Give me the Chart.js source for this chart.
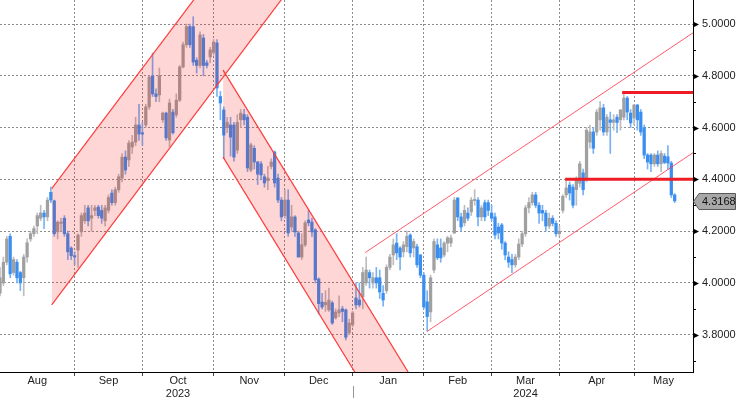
<!DOCTYPE html>
<html><head><meta charset="utf-8">
<script src="https://cdn.jsdelivr.net/npm/chart.js@4/dist/chart.umd.min.js"></script>
<style>html,body{margin:0;padding:0;background:#fff;overflow:hidden}#wrap{position:relative;width:736px;height:398px}</style>
</head><body><div id="wrap"><canvas id="c" width="736" height="398"></canvas></div>
<script>
// Daily OHLC, 1 Aug 2023 .. 16 May 2024 (trading days)
const openV = [
3.96,4.00,4.08,4.18,4.04,4.08,4.04,4.02,4.10,4.17,4.19,4.22,4.25,4.27,4.255,4.35,4.317,4.197,4.23,4.25,4.19,4.135,4.105,
4.127,4.197,4.24,4.29,4.25,4.28,4.293,4.28,4.24,4.28,4.347,4.31,4.36,4.405,4.486,4.475,4.525,4.544,4.61,4.58,
4.61,4.68,4.80,4.73,4.726,4.63,4.656,4.552,4.66,4.649,4.706,4.834,4.92,4.99,4.99,4.86,4.84,4.946,4.85,4.873,4.89,
4.927,4.72,4.668,4.60,4.61,4.61,4.513,4.63,4.65,4.64,4.436,4.52,4.467,4.46,4.41,4.395,4.45,4.506,4.405,4.32,4.26,
4.32,4.216,4.255,4.193,4.10,4.147,4.243,4.235,4.205,4.015,3.926,3.915,3.896,3.923,3.865,3.884,3.90,3.896,3.807,3.838,
3.942,3.934,3.946,4.00,4.04,4.00,4.02,4.02,3.96,3.97,4.06,4.108,4.154,4.135,4.12,4.14,4.185,4.135,4.14,4.108,4.03,
3.927,3.888,4.05,4.147,4.135,4.108,4.154,4.154,4.193,4.328,4.255,4.232,4.27,4.274,4.318,4.32,4.255,4.31,4.31,4.27,
4.255,4.216,4.224,4.154,4.10,4.09,4.07,4.10,4.15,4.19,4.29,4.31,4.34,4.30,4.28,4.27,4.22,4.25,4.23,4.19,
4.28,4.34,4.378,4.37,4.36,4.385,4.425,4.40,4.544,4.583,4.583,4.63,4.676,4.583,4.63,4.62,4.64,4.63,4.64,4.714,4.656,4.637,
4.687,4.66,4.60,4.494,4.494,4.46,4.494,4.46,4.49,4.487,4.463,4.34];
const highV = [
4.06,4.10,4.18,4.19,4.10,4.09,4.045,4.11,4.17,4.20,4.22,4.27,4.30,4.28,4.33,4.37,4.32,4.24,4.25,4.26,4.20,4.14,4.12,
4.19,4.27,4.30,4.30,4.30,4.30,4.30,4.30,4.30,4.34,4.36,4.37,4.42,4.50,4.51,4.55,4.57,4.64,4.69,4.62,
4.69,4.80,4.888,4.75,4.83,4.66,4.66,4.71,4.67,4.73,4.84,4.93,5.00,5.00,5.028,4.87,4.97,4.96,4.86,4.91,4.94,
4.94,4.74,4.68,4.64,4.64,4.62,4.65,4.67,4.67,4.65,4.54,4.53,4.47,4.47,4.42,4.45,4.48,4.51,4.42,4.33,4.36,
4.36,4.30,4.26,4.20,4.19,4.24,4.28,4.25,4.21,4.02,3.96,3.97,3.98,3.93,3.90,3.95,3.91,3.90,3.86,3.89,
4.00,4.00,4.06,4.10,4.05,4.04,4.06,4.05,3.99,4.07,4.11,4.17,4.19,4.14,4.16,4.20,4.19,4.17,4.15,4.11,4.04,
3.97,4.03,4.17,4.17,4.17,4.16,4.18,4.185,4.33,4.33,4.27,4.30,4.29,4.33,4.36,4.33,4.30,4.32,4.32,4.30,
4.27,4.23,4.23,4.16,4.12,4.11,4.11,4.17,4.20,4.30,4.33,4.35,4.35,4.31,4.30,4.28,4.27,4.26,4.24,4.22,
4.34,4.40,4.39,4.38,4.41,4.47,4.44,4.60,4.61,4.60,4.67,4.70,4.69,4.65,4.66,4.65,4.65,4.67,4.738,4.72,4.67,4.69,
4.69,4.67,4.61,4.50,4.50,4.50,4.51,4.51,4.50,4.53,4.47,4.345];
const lowV = [
3.95,3.99,4.07,4.02,4.03,4.00,3.97,3.95,4.08,4.16,4.18,4.19,4.24,4.21,4.24,4.31,4.18,4.17,4.20,4.18,4.09,4.09,4.07,
4.06,4.18,4.23,4.22,4.20,4.26,4.25,4.23,4.22,4.27,4.30,4.30,4.35,4.39,4.42,4.45,4.50,4.53,4.55,4.53,
4.60,4.67,4.72,4.70,4.70,4.62,4.55,4.526,4.575,4.64,4.70,4.83,4.91,4.91,4.84,4.81,4.83,4.80,4.83,4.85,4.88,
4.72,4.63,4.48,4.58,4.49,4.47,4.50,4.60,4.61,4.43,4.43,4.44,4.38,4.40,4.37,4.36,4.44,4.37,4.31,4.24,4.25,
4.18,4.20,4.18,4.10,4.09,4.14,4.22,4.18,4.00,3.88,3.90,3.89,3.89,3.84,3.86,3.87,3.85,3.78,3.80,3.83,
3.90,3.907,3.90,3.99,3.98,3.98,3.98,3.94,3.91,3.96,4.05,4.07,4.09,4.05,4.10,4.12,4.10,4.10,4.06,4.02,3.90,
3.815,3.85,4.04,4.09,4.08,4.10,4.12,4.14,4.19,4.24,4.20,4.22,4.24,4.26,4.30,4.22,4.24,4.24,4.26,4.24,
4.17,4.17,4.13,4.09,4.06,4.04,4.06,4.09,4.14,4.18,4.27,4.30,4.29,4.23,4.24,4.20,4.21,4.22,4.18,4.18,
4.27,4.33,4.32,4.29,4.30,4.37,4.34,4.39,4.52,4.50,4.57,4.59,4.57,4.57,4.50,4.59,4.58,4.59,4.63,4.63,4.60,4.61,
4.59,4.57,4.48,4.44,4.43,4.45,4.45,4.43,4.46,4.44,4.33,4.31];
const closeV = [
4.02,4.08,4.17,4.035,4.09,4.02,4.00,4.10,4.155,4.19,4.21,4.26,4.27,4.255,4.32,4.32,4.19,4.235,4.235,4.19,4.12,4.105,4.10,
4.185,4.26,4.27,4.24,4.26,4.29,4.26,4.25,4.29,4.33,4.31,4.36,4.41,4.486,4.436,4.54,4.544,4.61,4.575,4.575,
4.68,4.795,4.73,4.72,4.80,4.656,4.56,4.695,4.58,4.706,4.834,4.92,4.99,4.92,4.853,4.84,4.958,4.84,4.84,4.90,4.93,
4.753,4.695,4.571,4.62,4.563,4.486,4.62,4.656,4.63,4.444,4.533,4.467,4.42,4.417,4.386,4.405,4.467,4.386,4.32,4.255,4.32,
4.193,4.255,4.197,4.10,4.147,4.232,4.232,4.197,4.012,3.92,3.907,3.925,3.934,3.845,3.888,3.896,3.89,3.79,3.845,3.884,
3.915,3.915,4.04,4.05,4.02,4.02,4.00,3.965,3.934,4.06,4.10,4.147,4.116,4.10,4.147,4.18,4.116,4.16,4.07,4.03,3.907,
3.87,4.02,4.16,4.097,4.097,4.154,4.174,4.174,4.32,4.255,4.216,4.28,4.25,4.32,4.322,4.255,4.29,4.255,4.28,4.25,
4.185,4.193,4.154,4.108,4.08,4.07,4.10,4.15,4.19,4.29,4.31,4.34,4.30,4.27,4.27,4.22,4.25,4.23,4.19,4.20,
4.335,4.367,4.347,4.30,4.40,4.46,4.36,4.59,4.583,4.52,4.66,4.676,4.583,4.64,4.62,4.63,4.62,4.668,4.714,4.66,4.618,4.687,
4.63,4.583,4.494,4.467,4.46,4.494,4.46,4.50,4.465,4.463,4.34,4.3168];

// Month names and the trading-day number where each month starts
const monthNames = ['Aug','Sep','Oct','Nov','Dec','Jan','Feb','Mar','Apr','May'];
const yearNames  = ['',   '',   '2023','', '',   '',   '',   '2024','', ''];
const monthStart = [0, 23, 43, 64, 85, 105, 126, 146, 166, 188];
const yearBreak = 105;

// y-axis ticks
const yMajorTicks = [3.8, 4.0, 4.2, 4.4, 4.6, 4.8, 5.0];
const yMinorTicks = [3.7, 3.9, 4.1, 4.3, 4.5, 4.7, 4.9];

// Trend channels (x = trading day number)
const upChannelTop    = [{x:16.25, y:4.364}, {x:91, y:5.665}];
const upChannelBottom = [{x:16.25, y:3.915}, {x:91, y:5.216}];
const downChannelTop    = [{x:66.8, y:4.822}, {x:131, y:3.450}];
const downChannelBottom = [{x:66.8, y:4.486}, {x:131, y:3.114}];
const newChannelTop    = [{x:108.7, y:4.117}, {x:205.4, y:4.966}];
const newChannelBottom = [{x:126.9, y:3.812}, {x:205.4, y:4.503}];
const resistance = [{x:184.5, y:4.735}, {x:205.4, y:4.735}];
const support    = [{x:167.7, y:4.40},  {x:205.4, y:4.40}];

const X_MIN = 1, X_MAX = 205.4, Y_MIN = 3.656, Y_MAX = 5.0927;

const n = Math.min(openV.length, highV.length, lowV.length, closeV.length);
const xs = Array.from({length:n}, (_, i) => i + 1);
const isUp = i => closeV[i] >= openV[i];
const bodyCol = xs.map((_, i) => isUp(i) ? '#a0a0a0' : '#3a8ef0');
const wickCol = xs.map((_, i) => isUp(i) ? '#bdbdbd' : '#78b2f4');

const boundaries = monthStart.filter(v => v > X_MIN && v < X_MAX);
const boundarySet = new Set(boundaries);
const labelPos = monthStart.map((s, k) => {
  const a = Math.max(s, X_MIN);
  const b = k + 1 < monthStart.length ? monthStart[k + 1] : X_MAX;
  return (a + Math.min(b, X_MAX)) / 2;
});
const labelMap = new Map(labelPos.map((p, k) => [p, k]));

Chart.defaults.font.family = "'Liberation Sans', Arial, sans-serif";
Chart.defaults.font.size = 11;
Chart.defaults.color = '#222';

const lineDs = (data, color, width, extra) => Object.assign({
  type: 'line', data, borderColor: color, borderWidth: width, pointRadius: 0,
  tension: 0, fill: false, clip: 0, order: 2
}, extra || {});

const noPad = s => { s.paddingTop = 0; s.paddingBottom = 0; s.paddingLeft = 0; s.paddingRight = 0; };

const decor = {
  id: 'decor',
  afterDraw(chart) {
    const ctx = chart.ctx, y = chart.scales.y, x = chart.scales.x;
    const ax = chart.chartArea.right;
    ctx.save();
    ctx.fillStyle = '#000'; ctx.strokeStyle = '#000'; ctx.lineWidth = 1;
    yMajorTicks.forEach(v => {
      const py = Math.round(y.getPixelForValue(v)) + 0.5;
      ctx.beginPath(); ctx.moveTo(ax, py - 3); ctx.lineTo(ax + 6, py); ctx.lineTo(ax, py + 3); ctx.closePath(); ctx.fill();
    });
    yMinorTicks.forEach(v => {
      const py = Math.round(y.getPixelForValue(v)) + 0.5;
      ctx.beginPath(); ctx.moveTo(ax, py); ctx.lineTo(ax + 3, py); ctx.stroke();
    });
    // year separator
    const yb = Math.round(x.getPixelForValue(yearBreak)) + 0.5;
    ctx.strokeStyle = '#999';
    ctx.beginPath(); ctx.moveTo(yb, chart.chartArea.bottom + 14); ctx.lineTo(yb, 398); ctx.stroke();
    // last price tag
    const last = closeV[n - 1];
    const ty = Math.round(y.getPixelForValue(last)) + 0.5;
    ctx.beginPath();
    ctx.moveTo(ax + 0.5, ty); ctx.lineTo(ax + 6, ty - 8); ctx.lineTo(735.5, ty - 8);
    ctx.lineTo(735.5, ty + 8); ctx.lineTo(ax + 6, ty + 8); ctx.closePath();
    ctx.fillStyle = '#a8a8a8'; ctx.fill();
    ctx.strokeStyle = '#5a5a5a'; ctx.stroke();
    ctx.fillStyle = '#111'; ctx.font = "11px 'Liberation Sans', Arial, sans-serif";
    ctx.textBaseline = 'middle'; ctx.textAlign = 'left';
    ctx.fillText(last.toFixed(4), ax + 9, ty + 0.5);
    ctx.restore();
  }
};

new Chart(document.getElementById('c'), {
  type: 'bar',
  data: {
    datasets: [
      lineDs(support, '#ee1c25', 3, {order: 0}),
      lineDs(resistance, '#ee1c25', 3, {order: 0}),
      lineDs(upChannelTop, '#ff3b3b', 1.2),
      lineDs(upChannelBottom, '#ff3b3b', 1.2, {fill: '-1', backgroundColor: 'rgba(255,0,0,0.16)'}),
      lineDs(downChannelTop, '#ff3b3b', 1.2),
      lineDs(downChannelBottom, '#ff3b3b', 1.2, {fill: '-1', backgroundColor: 'rgba(255,0,0,0.16)'}),
      lineDs(newChannelTop, 'rgba(255,50,70,0.8)', 1),
      lineDs(newChannelBottom, 'rgba(255,50,70,0.8)', 1),
      { type: 'bar', data: xs.map((x, i) => ({x, y: [openV[i], closeV[i]]})),
        backgroundColor: bodyCol, barThickness: 2.6, minBarLength: 1.2, grouped: false, order: 5 },
      { type: 'bar', data: xs.map((x, i) => ({x, y: [lowV[i], highV[i]]})),
        backgroundColor: wickCol, barThickness: 1, grouped: false, order: 6 }
    ]
  },
  options: {
    responsive: false, animation: false, devicePixelRatio: 1,
    layout: { padding: 0 },
    plugins: { legend: { display: false }, tooltip: { enabled: false } },
    scales: {
      x: {
        type: 'linear', min: X_MIN, max: X_MAX, offset: false,
        afterBuildTicks: s => {
          s.ticks = [...boundaries, ...labelPos].sort((a, b) => a - b).map(v => ({value: v}));
        },
        afterFit: s => { s.height = 26; noPad(s); },
        ticks: {
          autoSkip: false, maxRotation: 0, minRotation: 0, padding: -2, color: '#222',
          callback: v => {
            if (!labelMap.has(v)) return '';
            const k = labelMap.get(v);
            return yearNames[k] ? [monthNames[k], yearNames[k]] : monthNames[k];
          }
        },
        grid: {
          offset: false, lineWidth: 1, drawTicks: true, tickLength: 4, tickBorderDash: [],
          color: c => (c.tick && boundarySet.has(c.tick.value)) ? '#8c8c8c' : 'rgba(0,0,0,0)',
          tickColor: c => (c.tick && boundarySet.has(c.tick.value)) ? '#444' : 'rgba(0,0,0,0)'
        },
        border: { display: true, color: '#000', width: 1, dash: [2, 2] }
      },
      y: {
        type: 'linear', position: 'right', min: Y_MIN, max: Y_MAX,
        afterBuildTicks: s => { s.ticks = yMajorTicks.map(v => ({value: v})); },
        afterFit: s => { s.width = 43; noPad(s); },
        ticks: { padding: 9, color: '#222', callback: v => Number(v).toFixed(4) },
        grid: { color: '#8c8c8c', lineWidth: 1, drawTicks: false },
        border: { display: true, color: '#000', width: 1, dash: [2, 2] }
      }
    }
  },
  plugins: [decor]
});
</script></body></html>
